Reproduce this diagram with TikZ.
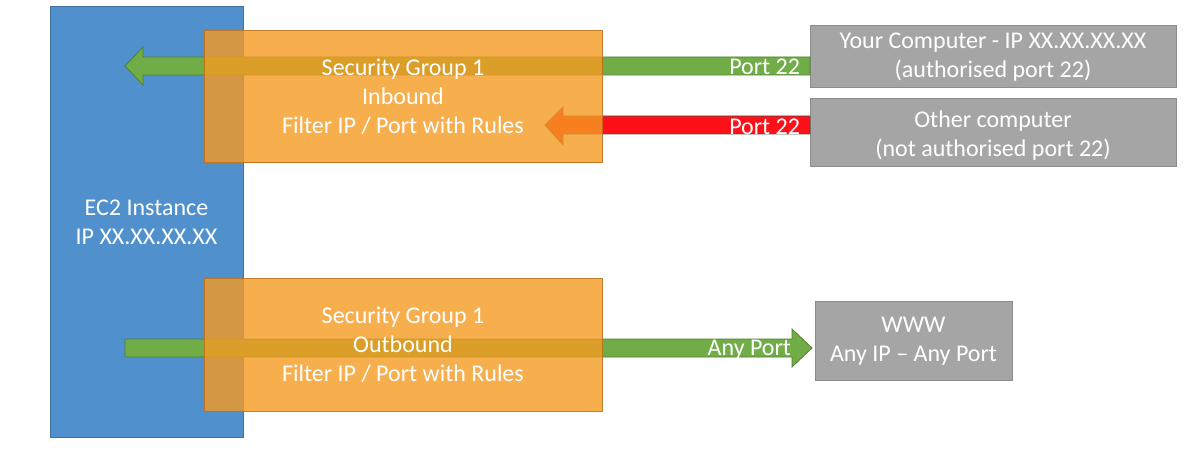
\documentclass[tikz,border=0pt]{standalone}
\usepackage{fontspec}
\setmainfont{Carlito}
\usetikzlibrary{calc}
\definecolor{ecblue}{HTML}{5090CC}
\definecolor{ecblueline}{HTML}{41719C}
\definecolor{sgorange}{HTML}{F59B22}
\definecolor{sgline}{HTML}{C0701A}
\definecolor{okgreen}{HTML}{70AD47}
\definecolor{okgreenline}{HTML}{507E32}
\definecolor{badred}{HTML}{FF1019}
\definecolor{badredline}{HTML}{505050}
\definecolor{hostgray}{HTML}{A5A5A5}
\definecolor{hostline}{HTML}{8C8C8C}
\begin{document}
\begin{tikzpicture}[x=1pt,y=-1pt,
  every node/.style={inner sep=0pt, outer sep=0pt, text=white, align=center,
    font=\fontsize{24}{28.8}\selectfont},
  ecbox/.style={draw=ecblueline, line width=1pt, fill=ecblue},
  sgbox/.style={draw=sgline, line width=1pt, fill=sgorange, fill opacity=0.8, draw opacity=0.9, text opacity=1},
  hostbox/.style={draw=hostline, line width=1pt, fill=hostgray},
  garrow/.style={draw=okgreenline, line width=0.8pt, fill=okgreen, line join=miter},
  rarrow/.style={draw=badredline, line width=0.8pt, fill=badred, line join=miter},
  lbl/.style={anchor=east}
]
\useasboundingbox (0,0) rectangle (1187,449);

% EC2 instance
\node[ecbox, minimum width=193pt, minimum height=430pt] (ec2) at (146.5,222) {EC2 Instance\\IP XX.XX.XX.XX};

% hosts
\node[hostbox, minimum width=366pt, minimum height=62pt] (you) at (993,57) {Your Computer - IP XX.XX.XX.XX\\(authorised port 22)};
\node[hostbox, minimum width=366pt, minimum height=68pt] (other) at (993,133) {};
\node (othertext) at (993,136) {Other computer\\(not authorised port 22)};
\node[hostbox, minimum width=197pt, minimum height=78pt] (www) at (913.5,341) {WWW\\Any IP -- Any Port};

% connector end points
\coordinate (gAtail) at (you.west |- 0,66);
\coordinate (gAtip) at (125,66);
\coordinate (rtail) at (other.west |- 0,125);
\coordinate (rtip) at (545,125);
\coordinate (gBtail) at (125,348);
\coordinate (gBtip) at (812,348);

% inbound green arrow (authorised)
\draw[garrow] ($(gAtail)+(0,-9)$) -- ($(gAtip)+(18,-9)$) -- ($(gAtip)+(18,-19)$) -- (gAtip)
  -- ($(gAtip)+(18,19)$) -- ($(gAtip)+(18,9)$) -- ($(gAtail)+(0,9)$) -- cycle;
% inbound red arrow (blocked)
\draw[rarrow] ($(rtail)+(0,-9)$) -- ($(rtip)+(18,-9)$) -- ($(rtip)+(18,-18)$) -- (rtip)
  -- ($(rtip)+(18,20)$) -- ($(rtip)+(18,9)$) -- ($(rtail)+(0,9)$) -- cycle;
% outbound green arrow
\draw[garrow] ($(gBtail)+(0,-9)$) -- ($(gBtip)+(-20,-9)$) -- ($(gBtip)+(-20,-19)$) -- (gBtip)
  -- ($(gBtip)+(-20,19)$) -- ($(gBtip)+(-20,9)$) -- ($(gBtail)+(0,9)$) -- cycle;

% security groups
\node[sgbox, minimum width=398pt, minimum height=132pt] (sgin) at (403,97) {Security Group 1\\Inbound\\Filter IP / Port with Rules};
\node[sgbox, minimum width=398pt, minimum height=132pt] (sgout) at (403,345) {Security Group 1\\Outbound\\Filter IP / Port with Rules};

% labels
\node[lbl] (p1) at (800,67) {Port 22};
\node[lbl] (p2) at (800,127) {Port 22};
\node[lbl] (p3) at (791,350) {Any Port};
\end{tikzpicture}
\end{document}
